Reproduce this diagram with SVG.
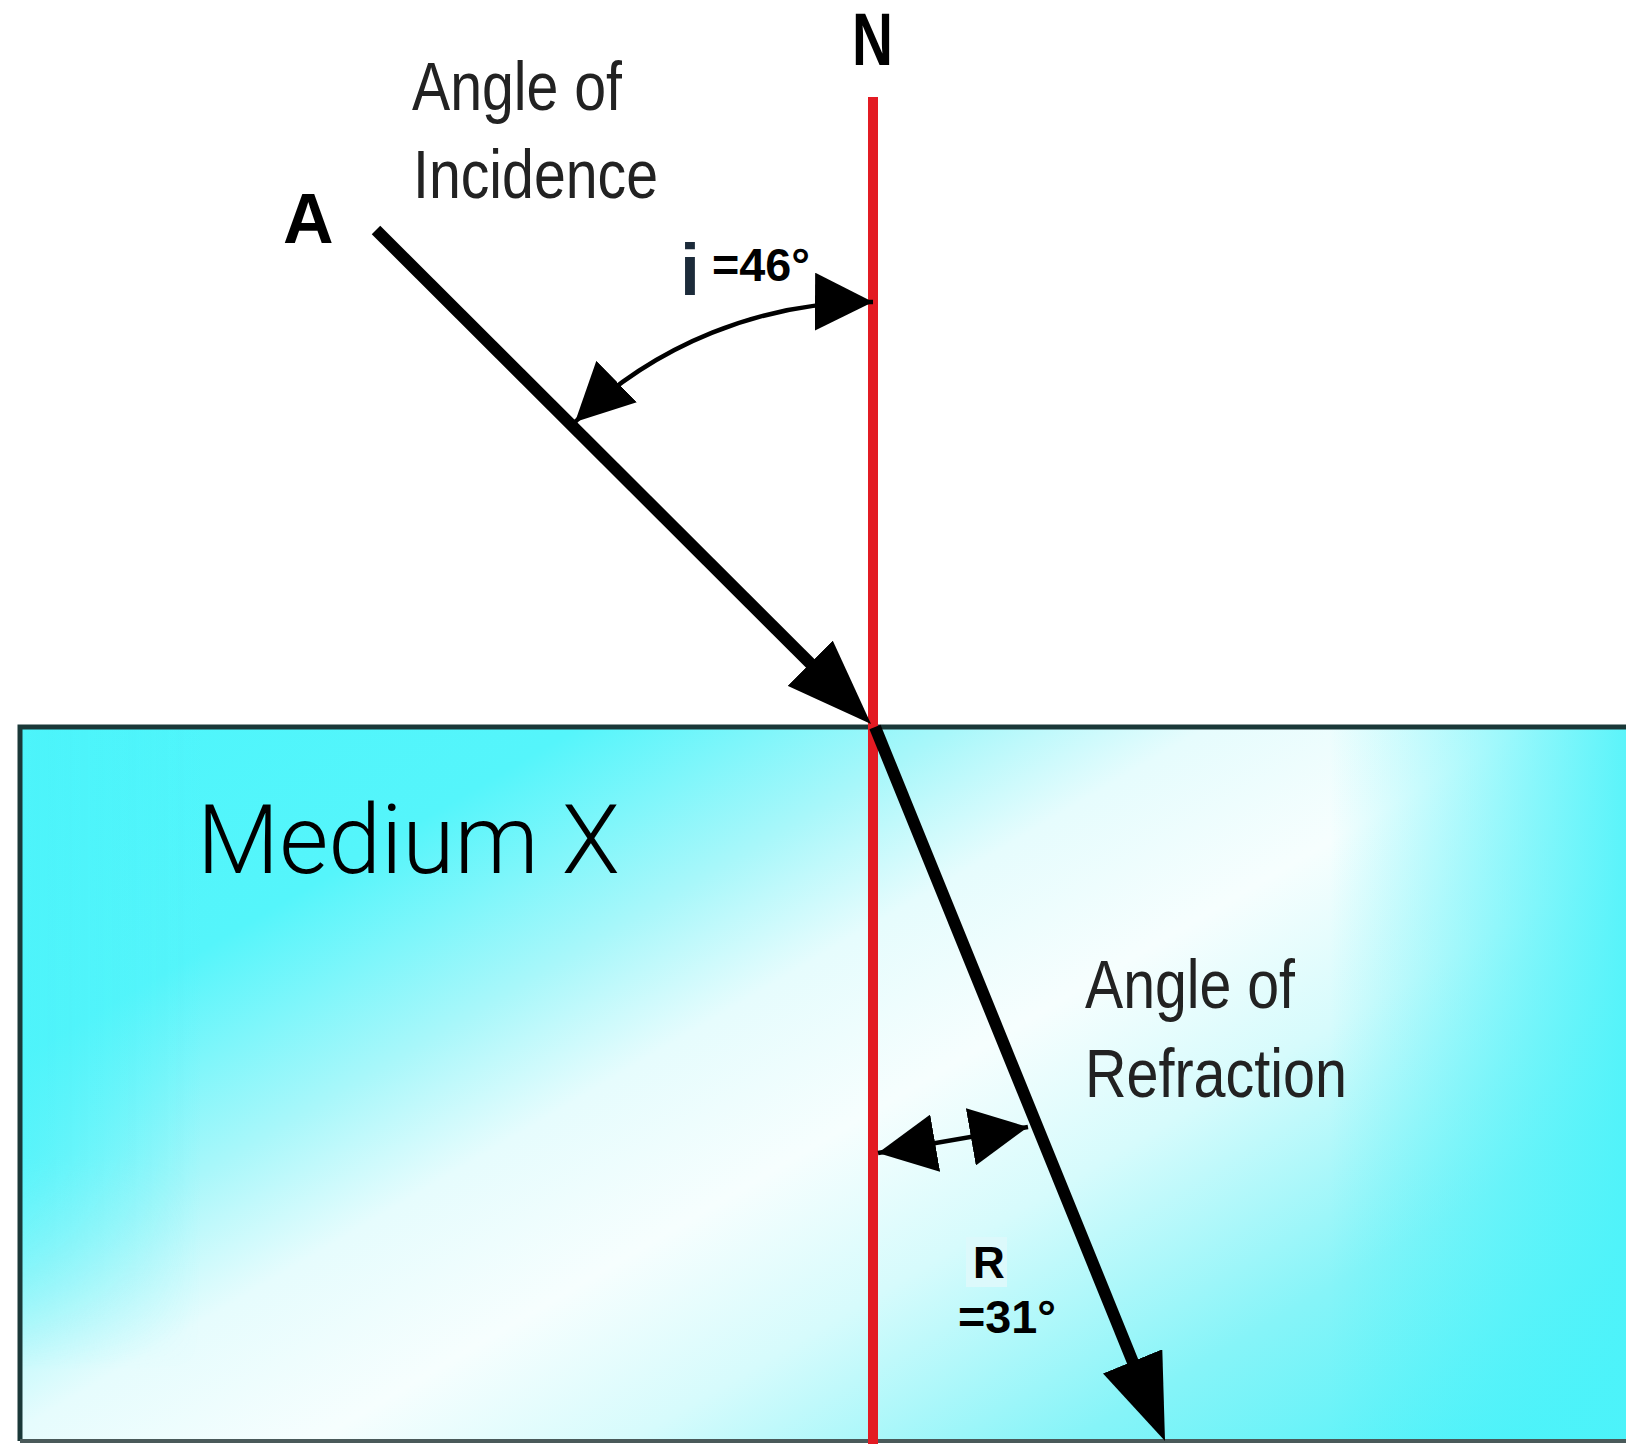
<svg xmlns="http://www.w3.org/2000/svg" width="1626" height="1444" viewBox="0 0 1626 1444">
  <style>
    .lbl { font-family: "Liberation Sans", Arial, sans-serif; fill: #222222; font-size: 68px; }
    .bold { font-family: "Liberation Sans", Arial, sans-serif; font-weight: bold; fill: #000000; }
    .medium { font-family: Roboto, "Liberation Sans", sans-serif; font-weight: 300; font-size: 96px; fill: #000000; }
    .ray { stroke: #000000; stroke-width: 12; fill: none; }
    .angle { stroke: #000000; stroke-width: 4.5; fill: none; }
  </style>
  <defs>
    <linearGradient id="water" gradientUnits="userSpaceOnUse" x1="466" y1="422" x2="1280" y2="1800">
      <stop offset="0" stop-color="#4cf6fc"/>
      <stop offset="0.2" stop-color="#55f5fb"/>
      <stop offset="0.32" stop-color="#a8f7fa"/>
      <stop offset="0.4" stop-color="#e6fcfd"/>
      <stop offset="0.5" stop-color="#f6fefe"/>
      <stop offset="0.6" stop-color="#d6fbfc"/>
      <stop offset="0.74" stop-color="#86f4f8"/>
      <stop offset="0.88" stop-color="#50f2f9"/>
      <stop offset="1" stop-color="#48f0f8"/>
    </linearGradient>
    <linearGradient id="rightEdge" gradientUnits="userSpaceOnUse" x1="1330" y1="0" x2="1626" y2="0">
      <stop offset="0" stop-color="#4cf3fa" stop-opacity="0"/>
      <stop offset="1" stop-color="#4cf3fa" stop-opacity="0.9"/>
    </linearGradient>
    <linearGradient id="leftEdge" gradientUnits="userSpaceOnUse" x1="20" y1="0" x2="200" y2="0">
      <stop offset="0" stop-color="#4cf3fa" stop-opacity="0.75"/>
      <stop offset="1" stop-color="#4cf3fa" stop-opacity="0"/>
    </linearGradient>
    <linearGradient id="leftFade" gradientUnits="userSpaceOnUse" x1="0" y1="727" x2="0" y2="1441">
      <stop offset="0" stop-color="#ffffff"/>
      <stop offset="0.6" stop-color="#ffffff"/>
      <stop offset="0.9" stop-color="#000000"/>
    </linearGradient>
    <mask id="leftMask" maskUnits="userSpaceOnUse" x="0" y="700" width="400" height="760">
      <rect x="0" y="700" width="400" height="760" fill="url(#leftFade)"/>
    </mask>
    <marker id="bigHead" markerUnits="userSpaceOnUse" viewBox="0 0 86 64" markerWidth="86" markerHeight="64" refX="6" refY="32" orient="auto">
      <path d="M0,0 L86,32 L0,64 z" fill="#000000"/>
    </marker>
    <marker id="smallHead" markerUnits="userSpaceOnUse" viewBox="0 0 58 58" markerWidth="58" markerHeight="58" refX="58" refY="29" orient="auto-start-reverse">
      <path d="M0,0 L58,29 L0,58 z" fill="#000000"/>
    </marker>
  </defs>

  <rect x="0" y="0" width="1626" height="1444" fill="#ffffff"/>

  <g id="medium-x">
    <rect x="20" y="727" width="1606" height="714" fill="url(#water)"/>
    <rect x="20" y="727" width="1606" height="714" fill="url(#rightEdge)"/>
    <rect x="20" y="727" width="300" height="714" fill="url(#leftEdge)" mask="url(#leftMask)"/>
    <path d="M20,1441 L20,727 L1626,727" fill="none" stroke="#1a3838" stroke-width="5"/>
    <line x1="20" y1="1441" x2="1626" y2="1441" stroke="#4a5a5a" stroke-width="4"/>
    <text class="medium" x="197" y="873" textLength="423" lengthAdjust="spacingAndGlyphs">Medium X</text>
  </g>

  <g id="normal">
    <line x1="873" y1="97" x2="873" y2="1444" stroke="#e31b23" stroke-width="10"/>
    <text class="bold" x="852" y="65" font-size="74" textLength="41" lengthAdjust="spacingAndGlyphs">N</text>
  </g>

  <g id="connectors">
    <line id="incident-ray" class="ray" x1="376" y1="230" x2="814.4" y2="667.5" marker-end="url(#bigHead)"/>
    <line id="refracted-ray" class="ray" x1="875" y1="727" x2="1134.9" y2="1366.9" marker-end="url(#bigHead)"/>
    <path id="angle-i" class="angle" d="M575,422 A424,424 0 0 1 873,302" marker-start="url(#smallHead)" marker-end="url(#smallHead)"/>
    <line id="angle-r" class="angle" x1="878" y1="1153" x2="1028" y2="1127" marker-start="url(#smallHead)" marker-end="url(#smallHead)"/>
  </g>

  <g id="point-a">
    <text class="bold" x="283" y="243" font-size="70">A</text>
  </g>

  <g id="incidence-label">
    <text class="lbl" x="412" y="110" textLength="210" lengthAdjust="spacingAndGlyphs">Angle of</text>
    <text class="lbl" x="413" y="198" textLength="245" lengthAdjust="spacingAndGlyphs">Incidence</text>
  </g>

  <g id="i-value">
    <text class="bold" x="680" y="295" font-size="72" style="fill:#1c2b3a">i</text>
    <text class="bold" x="712" y="281" font-size="46" textLength="98" lengthAdjust="spacingAndGlyphs">=46°</text>
  </g>

  <g id="refraction-label">
    <text class="lbl" x="1085" y="1008" textLength="210" lengthAdjust="spacingAndGlyphs">Angle of</text>
    <text class="lbl" x="1085" y="1097" textLength="262" lengthAdjust="spacingAndGlyphs">Refraction</text>
  </g>

  <g id="r-value">
    <rect x="966" y="1237" width="41" height="50" fill="#dcf9fb"/>
    <text class="bold" x="973" y="1278" font-size="44">R</text>
    <text class="bold" x="958" y="1333" font-size="46" textLength="98" lengthAdjust="spacingAndGlyphs">=31°</text>
  </g>
</svg>
